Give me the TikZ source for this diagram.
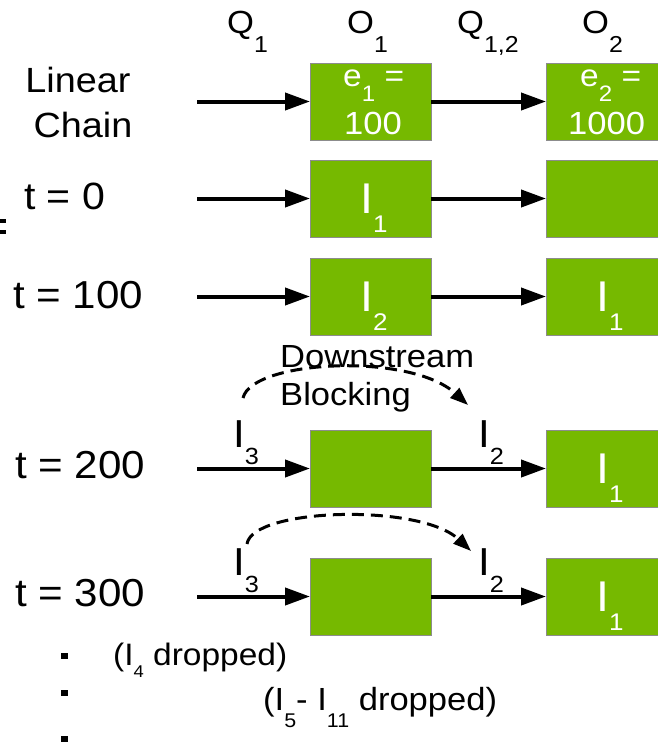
\documentclass[tikz,border=0pt]{standalone}
\usepackage{fontspec}
\setmainfont{Liberation Sans}[FakeStretch=1.08]
\usetikzlibrary{arrows.meta}
\definecolor{opgreen}{HTML}{76B900}
% lowered subscript: drop, scale, text
\newcommand\lsub[3]{\raisebox{-#1}{\scalebox{#2}{#3}}}

\begin{document}
\begin{tikzpicture}[x=1pt,y=-1pt,
  opbox/.style={draw=black!45, line width=0.8pt, fill=opgreen,
    minimum width=121pt, minimum height=77pt, inner sep=0pt, outer sep=0pt},
  flow/.style={line width=4pt, -{Triangle[length=25pt,width=17pt]}},
  block/.style={line width=3pt, dash pattern=on 12pt off 7pt,
    -{Triangle[length=18pt,width=13pt]}},
  txt/.style={inner sep=0pt, anchor=base west},
  hdr/.style={txt, font=\fontsize{32}{32}\selectfont},
  rowlbl/.style={txt, font=\fontsize{39}{39}\selectfont},
  boxtxt/.style={inner sep=0pt, anchor=base, text=white, font=\fontsize{43}{43}\selectfont},
  paramtxt/.style={txt, text=white},
  qlbl/.style={txt, font=\fontsize{39}{39}\selectfont},
  note/.style={txt, font=\fontsize{32}{32}\selectfont},
  dot/.style={fill=black, inner sep=0pt, minimum width=7pt, minimum height=6pt},
]
\useasboundingbox (0,0) rectangle (658,742);

% column headers
\node[hdr] (hq1)  at (227,33) {Q\lsub{0.6em}{0.72}{1}};
\node[hdr] (ho1)  at (347,33) {O\lsub{0.6em}{0.72}{1}};
\node[hdr] (hq12) at (457,33) {Q\lsub{0.6em}{0.72}{1,2}};
\node[hdr] (ho2)  at (582,33) {O\lsub{0.6em}{0.72}{2}};

% row labels
\node[inner sep=0pt, anchor=base, font=\fontsize{35}{35}\selectfont] (lin) at (78,92) {Linear};
\node[inner sep=0pt, anchor=base, font=\fontsize{35}{35}\selectfont] (chn) at (83,137) {Chain};
\node[txt, font=\fontsize{38}{38}\selectfont] (t0) at (24,209) {t = 0};
\node[rowlbl] (t100) at (13,308) {t = 100};
\node[rowlbl] (t200) at (15,478) {t = 200};
\node[rowlbl] (t300) at (15,606) {t = 300};

% cut-off glyph at the left edge
\fill (0,219) rectangle (6,223);
\fill (0,230) rectangle (6,234);

% operator boxes
\node[opbox] (a1) at (370.5,101.5) {};
\node[opbox] (b1) at (606.5,101.5) {};
\node[opbox] (a2) at (370.5,198.5) {};
\node[opbox] (b2) at (606.5,198.5) {};
\node[opbox] (a3) at (370.5,296.5) {};
\node[opbox] (b3) at (606.5,296.5) {};
\node[opbox] (a4) at (370.5,468.5) {};
\node[opbox] (b4) at (606.5,468.5) {};
\node[opbox] (a5) at (370.5,596.5) {};
\node[opbox] (b5) at (606.5,596.5) {};

% box contents
\node[paramtxt, font=\fontsize{31}{31}\selectfont] (e1) at (343,86) {e\lsub{0.5em}{0.72}{1} =};
\node[paramtxt, font=\fontsize{32}{32}\selectfont] (c1) at (344,134) {100};
\node[paramtxt, font=\fontsize{31}{31}\selectfont] (e2) at (580,86) {e\lsub{0.5em}{0.72}{2} =};
\node[paramtxt, font=\fontsize{32}{32}\selectfont] (c2) at (568,134) {1000};
\node[boxtxt] (i21) at (374,213) {I\lsub{0.45em}{0.56}{1}};
\node[boxtxt] (i32) at (374,311) {I\lsub{0.45em}{0.56}{2}};
\node[boxtxt] (i31) at (610,311) {I\lsub{0.45em}{0.56}{1}};
\node[boxtxt] (i41) at (610,483) {I\lsub{0.45em}{0.56}{1}};
\node[boxtxt] (i51) at (610,611) {I\lsub{0.45em}{0.56}{1}};

% input arrows
\coordinate (s1) at (197,101.5);
\coordinate (s2) at (197,198.5);
\coordinate (s3) at (197,296.5);
\coordinate (s4) at (197,468.5);
\coordinate (s5) at (197,596.5);
\foreach \r in {1,...,5}{
  \draw[flow] (s\r) -- (a\r);
  \draw[flow] (a\r) -- (b\r);
}

% queued items
\node[qlbl] (q43) at (233,447) {I\lsub{0.44em}{0.6}{3}};
\node[qlbl] (q42) at (478,447) {I\lsub{0.44em}{0.6}{2}};
\node[qlbl] (q53) at (233,575) {I\lsub{0.44em}{0.6}{3}};
\node[qlbl] (q52) at (478,575) {I\lsub{0.44em}{0.6}{2}};

% downstream blocking
\node[note] (dn) at (280,367) {Downstream};
\node[note] (bl) at (280,405) {Blocking};
\coordinate (u4) at (243,398);
\coordinate (v4) at (468,405);
\draw[block] (u4) .. controls (252,360) and (410,352) .. (v4);
\coordinate (u5) at (247,544);
\coordinate (v5) at (471,551);
\draw[block] (u5) .. controls (252,508) and (420,503) .. (v5);

% dropped items
\node[dot] (p1) at (64,656) {};
\node[dot] (p2) at (64,693) {};
\node[dot] (p3) at (64,739) {};
\node[txt, font=\fontsize{31}{31}\selectfont] (d4) at (113,665) {(I\lsub{0.4em}{0.55}{4} dropped)};
\node[txt, font=\fontsize{32}{32}\selectfont] (d5) at (263,710) {(I\lsub{0.55em}{0.62}{5}- I\lsub{0.55em}{0.62}{11} dropped)};
\end{tikzpicture}
\end{document}
